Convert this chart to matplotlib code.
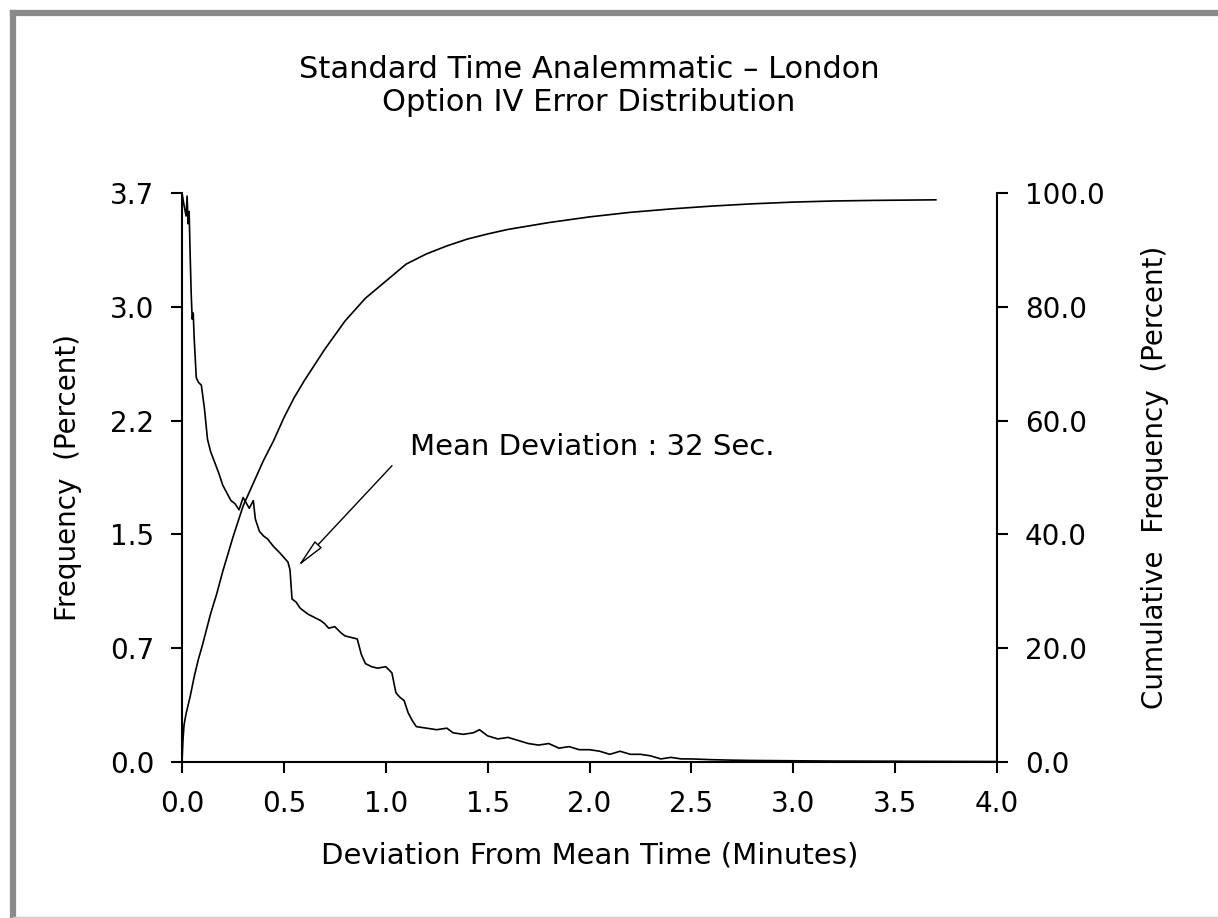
import numpy as np
import matplotlib
matplotlib.use('Agg')
import matplotlib.pyplot as plt
from matplotlib.lines import Line2D

# Frequency distribution of deviation (minutes -> percent)
freq_x = [0.000, 0.010, 0.020, 0.025, 0.030, 0.035, 0.040, 0.045, 0.050, 0.055,
          0.060, 0.070, 0.080, 0.095, 0.110, 0.125, 0.140, 0.160, 0.180, 0.200,
          0.220, 0.240, 0.260, 0.280, 0.300, 0.330, 0.350, 0.360, 0.380, 0.400,
          0.420, 0.450, 0.480, 0.500, 0.520, 0.530, 0.540, 0.560, 0.580, 0.600,
          0.620, 0.650, 0.680, 0.700, 0.720, 0.750, 0.780, 0.800, 0.830, 0.860,
          0.880, 0.900, 0.930, 0.960, 1.000, 1.030, 1.050, 1.070, 1.090, 1.110,
          1.130, 1.150, 1.200, 1.250, 1.300, 1.330, 1.380, 1.430, 1.460, 1.500,
          1.550, 1.600, 1.650, 1.700, 1.750, 1.800, 1.850, 1.900, 1.950, 2.000,
          2.050, 2.100, 2.150, 2.200, 2.250, 2.300, 2.350, 2.400, 2.450, 2.500,
          2.600, 2.700, 2.800, 3.000, 3.200, 3.500, 3.700, 4.000]
freq_y = [3.70, 3.62, 3.55, 3.68, 3.50, 3.58, 3.30, 3.05, 2.88, 2.92,
          2.75, 2.50, 2.47, 2.45, 2.30, 2.10, 2.02, 1.95, 1.88, 1.80,
          1.75, 1.70, 1.68, 1.64, 1.72, 1.65, 1.70, 1.58, 1.50, 1.47,
          1.45, 1.40, 1.36, 1.33, 1.30, 1.25, 1.06, 1.04, 1.00, 0.98,
          0.96, 0.94, 0.92, 0.90, 0.87, 0.88, 0.84, 0.82, 0.81, 0.80,
          0.70, 0.64, 0.62, 0.61, 0.62, 0.58, 0.45, 0.42, 0.40, 0.32,
          0.27, 0.23, 0.22, 0.21, 0.22, 0.19, 0.18, 0.19, 0.21, 0.17,
          0.15, 0.16, 0.14, 0.12, 0.11, 0.12, 0.09, 0.10, 0.08, 0.08,
          0.07, 0.05, 0.07, 0.05, 0.05, 0.04, 0.02, 0.03, 0.02, 0.02,
          0.015, 0.012, 0.010, 0.008, 0.006, 0.005, 0.004, 0.003]

# Cumulative frequency (percent)
cum_x = [0.000, 0.005, 0.010, 0.020, 0.040, 0.060, 0.080, 0.100, 0.140, 0.170,
         0.200, 0.250, 0.300, 0.350, 0.400, 0.450, 0.500, 0.550, 0.600, 0.700,
         0.800, 0.900, 1.000, 1.100, 1.200, 1.300, 1.400, 1.500, 1.600, 1.800,
         2.000, 2.200, 2.400, 2.600, 2.800, 3.000, 3.200, 3.400, 3.700]
cum_y = [0.0, 4.0, 6.5, 8.5, 11.5, 15.0, 18.0, 20.5, 26.0, 29.5,
         33.5, 39.5, 45.0, 49.0, 53.0, 56.5, 60.5, 64.0, 67.0, 72.5,
         77.5, 81.5, 84.5, 87.5, 89.3, 90.7, 91.9, 92.8, 93.6, 94.8,
         95.8, 96.6, 97.2, 97.7, 98.1, 98.4, 98.6, 98.7, 98.8]

x_ticks = [0.0, 0.5, 1.0, 1.5, 2.0, 2.5, 3.0, 3.5, 4.0]
left_ticks = np.linspace(0, 3.7, 6)
right_ticks = [0, 20, 40, 60, 80, 100]

fig = plt.figure(figsize=(12.18, 9.18), dpi=100)
ax = fig.add_axes([182/1218, 1-762/918, (997-182)/1218, (762-193)/918])
ax2 = ax.twinx()

ax.plot(freq_x, freq_y, color='black', lw=1.2)
ax2.plot(cum_x, cum_y, color='black', lw=1.2)

ax.set_xlim(0, 4.0)
ax.set_ylim(0, 3.7)
ax2.set_ylim(0, 100)

ax.set_xticks(x_ticks)
ax.set_xticklabels(['%.1f' % v for v in x_ticks])
ax.set_yticks(left_ticks)
ax.set_yticklabels(['%.1f' % v for v in left_ticks])
ax2.set_yticks(right_ticks)
ax2.set_yticklabels(['%.1f' % v for v in right_ticks])

for a in (ax, ax2):
    a.spines['top'].set_visible(False)
    for s in a.spines.values():
        s.set_linewidth(1.5)
    a.tick_params(direction='out', length=8, width=1.5, pad=12, labelsize=20)
ax.spines['right'].set_visible(False)
ax2.spines['left'].set_visible(False)
ax2.spines['bottom'].set_visible(False)

ax.set_xlabel('Deviation From Mean Time (Minutes)', fontsize=21, labelpad=17)
ax.set_ylabel('Frequency  (Percent)', fontsize=20, labelpad=20)
ax2.set_ylabel('Cumulative  Frequency  (Percent)', fontsize=20, labelpad=26)

fig.text(589/1218, 1-86/918, 'Standard Time Analemmatic \u2013 London\nOption IV Error Distribution',
         ha='center', va='center', fontsize=22, linespacing=1.2)

# annotation for the mean deviation
ax.text(1.12, 2.05, 'Mean Deviation : 32 Sec.', fontsize=21, ha='left', va='center')
ax.annotate('', xy=(0.56, 1.26), xytext=(1.04, 1.94),
            arrowprops=dict(arrowstyle='-|>,head_length=0.9,head_width=0.15',
                            mutation_scale=20, fc='white', ec='black', lw=1))

# grey frame around the picture
fig.add_artist(Line2D([13/1218, 13/1218], [0, 1-13/918], transform=fig.transFigure,
                      color='#8a8a8a', lw=4.5))
fig.add_artist(Line2D([13/1218, 1], [1-13/918, 1-13/918], transform=fig.transFigure,
                      color='#8a8a8a', lw=4.5))
fig.add_artist(Line2D([13/1218, 1], [1.5/918, 1.5/918], transform=fig.transFigure,
                      color='#cccccc', lw=1))

fig.savefig('out.png', dpi=100)
